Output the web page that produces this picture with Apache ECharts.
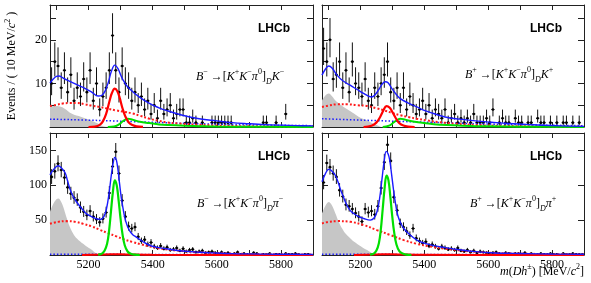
<!DOCTYPE html>
<html><head><meta charset="utf-8">
<script src="https://cdn.jsdelivr.net/npm/echarts@6/dist/echarts.min.js"></script>
<style>html,body{margin:0;padding:0;background:#fff}#c{width:591px;height:283px}</style>
</head><body><div id="c"></div>
<script>
// ---------------- data ----------------
const BIN_START = 5085, BIN_WIDTH = 10;   // bin centres 5085 ... 5895
const X_LABELS = [5200, 5400, 5600, 5800];
const X_TICKS = [5100, 5200, 5300, 5400, 5500, 5600, 5700, 5800];
const Y_TOP_LABELS = [10, 20];
const Y_TOP_TICKS = [5, 10, 15, 20, 25];
const Y_BOT_LABELS = [50, 100, 150];
const Y_BOT_TICKS = [50, 100, 150];

// counts per 10 MeV bin
const dataTL = [10,15,14,9,13,8,12,6,9,7, 11,8,13,6,10,4,7,9,13,21, 13,8,14,10,9,6,8,5,7,4,
  6,3,5,2,6,3,4,5,2,3, 4,4,1,1,2,1,0,1,0,0, 1,1,1,1,1,1,1,0,0,0, 0,0,0,0,0,0,1,1,0,0, 1,0,0,3,0,0,0,0,0,0, 0,0];
const dataTR = [18,15,20,11,12,15,9,13,8,15, 10,9,7,11,6,5,9,7,10,12, 15,8,6,9,5,9,4,7,5,3,
  4,6,3,5,2,4,3,2,4,1, 2,3,1,2,1,2,1,3,1,1, 1,2,1,4,0,1,2,1,1,0, 2,1,1,0,1,1,0,2,1,1, 0,1,0,1,0,1,1,0,1,0, 1,0];
const dataBL = [112,120,131,122,111,97,88,82,79,68, 62,57,63,55,51,47,52,61,89,127, 148,117,78,55,41,38,40,26,20,22,
  15,18,12,10,13,9,11,7,8,10, 6,9,5,7,8,4,5,6,3,4, 5,3,2,4,2,3,1,2,4,1, 2,1,1,3,2,0,1,1,2,0, 1,1,0,2,1,1,2,1,0,1, 1,0];
const dataBR = [104,132,126,117,112,93,84,72,70,66, 60,55,48,66,61,63,58,70,96,133, 158,135,83,64,45,40,34,28,38,24,
  20,17,19,13,15,12,9,12,10,8, 9,7,10,6,5,7,4,6,3,5, 4,3,2,3,4,2,1,3,2,1, 2,2,1,3,1,2,0,1,2,1, 1,2,1,1,0,2,1,1,2,1, 1,1];

// fit components: [mass, events]
const totTL = [[5080,10.1],[5090,11.0],[5100,11.6],[5108,11.7],[5120,11.3],[5132,10.8],[5150,10.2],[5183,9.1],[5210,8.0],[5230,7.1],[5242,7.3],[5252,8.3],[5262,10.3],[5272,12.9],[5282,14.2],[5292,13.4],[5300,12.0],[5307,10.9],[5320,9.4],[5338,8.1],[5360,6.8],[5390,5.4],[5420,4.4],[5442,3.8],[5493,2.7],[5545,1.9],[5600,1.4],[5648,1.0],[5700,0.75],[5750,0.55],[5800,0.42],[5852,0.32],[5900,0.26]];
const sigTL = [[5200,0],[5220,0.1],[5235,0.5],[5245,1.3],[5255,3.0],[5265,5.8],[5273,7.8],[5282,8.8],[5290,8.2],[5298,6.5],[5306,4.3],[5315,2.4],[5325,1.1],[5335,0.5],[5350,0.15],[5370,0.03]];
const misTL = [[5260,0],[5280,0.1],[5295,0.6],[5305,1.2],[5315,1.7],[5323,1.9],[5332,1.8],[5345,1.5],[5360,1.2],[5390,0.9],[5420,0.6],[5450,0.45],[5500,0.3],[5550,0.2],[5600,0.12],[5700,0.05],[5900,0.02]];
const prtTL = [[5080,4.8],[5100,5.1],[5120,5.4],[5140,5.5],[5163,5.5],[5190,5.2],[5210,4.9],[5235,4.6],[5260,4.2],[5287,3.8],[5310,3.5],[5338,3.1],[5360,2.6],[5390,1.9],[5420,1.4],[5442,1.1],[5480,0.8],[5545,0.5],[5600,0.32],[5700,0.16],[5800,0.08],[5900,0.05]];
const cmbTL = [[5080,1.8],[5235,1.5],[5390,1.1],[5545,0.75],[5700,0.5],[5900,0.3]];
const bkgTL = [[5080,4.7],[5095,4.8],[5111,4.7],[5126,4.2],[5147,3.1],[5178,2.3],[5209,1.5],[5235,0.6],[5250,0.1],[5260,0]];

const totTR = [[5080,11.9],[5090,13.2],[5101,14.0],[5112,13.5],[5127,11.9],[5145,10.6],[5168,9.6],[5190,8.6],[5210,7.7],[5225,7.1],[5236,6.9],[5246,7.4],[5257,8.5],[5268,9.8],[5278,10.4],[5286,10.2],[5299,8.8],[5312,7.5],[5325,6.5],[5350,5.5],[5377,4.6],[5400,3.8],[5429,3.1],[5465,2.3],[5510,1.8],[5560,1.4],[5610,1.1],[5664,0.8],[5720,0.6],[5768,0.4],[5830,0.25],[5900,0.15]];
const sigTR = [[5210,0],[5235,0.3],[5250,1.0],[5262,2.3],[5272,3.8],[5282,4.8],[5292,4.4],[5302,3.2],[5312,1.9],[5322,0.9],[5335,0.35],[5350,0.1],[5370,0]];
const misTR = [[5270,0],[5290,0.3],[5305,1.1],[5315,1.6],[5325,1.9],[5335,1.8],[5350,1.5],[5370,1.2],[5400,0.9],[5430,0.65],[5470,0.45],[5520,0.3],[5600,0.15],[5700,0.07],[5900,0.02]];
const prtTR = [[5080,4.6],[5100,4.9],[5127,5.2],[5160,5.2],[5190,5.0],[5223,4.8],[5250,4.3],[5275,3.8],[5300,3.2],[5325,2.7],[5350,2.3],[5377,1.9],[5410,1.5],[5448,1.1],[5500,0.75],[5560,0.45],[5650,0.25],[5750,0.12],[5900,0.05]];
const cmbTR = [[5080,1.9],[5275,1.4],[5450,1.0],[5650,0.6],[5900,0.3]];
const bkgTR = [[5080,6.1],[5090,7.2],[5101,7.7],[5112,7.0],[5122,6.1],[5135,5.3],[5148,4.6],[5165,3.8],[5180,3.1],[5200,2.1],[5221,1.5],[5240,0.8],[5252,0.4],[5265,0]];

const totBL = [[5080,115],[5090,122],[5100,127],[5106,128],[5115,125],[5127,118],[5135,106],[5142,95],[5152,84],[5163,76],[5180,66],[5194,59],[5210,55],[5225,52],[5238,51],[5248,55],[5256,66],[5264,88],[5271,114],[5277,132],[5282,140],[5287,136],[5292,122],[5297,102],[5302,83],[5308,66],[5313,54],[5320,43],[5328,35],[5338,29],[5349,25.7],[5370,19],[5390,14],[5415,11],[5442,9],[5493,5.7],[5545,3.9],[5600,2.8],[5648,2.0],[5700,1.6],[5800,1.1],[5900,0.8]];
const sigBL = [[5230,0.5],[5242,2],[5250,6],[5258,16],[5264,34],[5270,62],[5276,90],[5282,107],[5288,100],[5294,78],[5300,52],[5306,30],[5313,14],[5322,5],[5332,1.8],[5345,0.5],[5360,0]];
const misBL = [[5180,0],[5230,0.6],[5270,1.2],[5320,0.8],[5400,0.3],[5900,0]];
const prtBL = [[5080,44.8],[5105,47.5],[5132,48.6],[5160,47.5],[5183,44.8],[5210,41],[5235,36.2],[5260,31.5],[5287,26.7],[5310,22.5],[5338,18.6],[5365,15.2],[5390,12.4],[5415,10],[5442,8.1],[5493,5.6],[5545,3.9],[5600,2.7],[5648,2.0],[5700,1.5],[5800,0.9],[5900,0.6]];
const cmbBL = [[5080,1.2],[5400,0.8],[5900,0.4]];
const bkgBL = [[5080,62],[5090,73],[5100,80],[5106,81],[5115,76],[5122,68],[5130,56],[5142,40],[5152,31],[5163,24],[5176,18.5],[5189,14],[5200,10.5],[5209,8],[5220,3.5],[5230,1],[5240,0]];

const totBR = [[5080,105],[5090,116],[5101,123],[5110,121],[5122,114],[5130,105],[5137,95],[5148,82],[5158,71.4],[5168,64],[5179,59.6],[5195,55],[5210,52.4],[5231,50],[5243,53],[5252,62],[5260,80],[5268,110],[5275,136],[5281,148.6],[5287,145],[5292,135.7],[5298,115],[5304,92.9],[5310,74],[5317,57],[5326,46],[5336,38],[5355,29],[5377,21.4],[5400,17],[5430,13.4],[5466,10.5],[5510,7.5],[5560,4.8],[5621,2.9],[5680,2.3],[5726,2.0],[5800,1.4],[5900,1.0]];
const sigBR = [[5230,0.5],[5242,2],[5250,6],[5258,17],[5264,36],[5270,66],[5276,96],[5282,114],[5288,107],[5294,83],[5300,55],[5306,32],[5313,15],[5322,5.5],[5332,2],[5345,0.5],[5360,0]];
const misBR = [[5180,0],[5230,0.6],[5270,1.2],[5320,0.8],[5400,0.3],[5900,0]];
const prtBR = [[5080,45.3],[5100,47.5],[5127,48.6],[5169,47.6],[5210,43],[5252,35.7],[5294,28.6],[5336,21.4],[5377,16],[5420,12],[5466,9],[5520,6.2],[5580,4],[5640,2.7],[5726,1.8],[5800,1.2],[5900,0.8]];
const cmbBR = [[5080,1.2],[5400,0.8],[5900,0.4]];
const bkgBR = [[5080,59.6],[5090,70],[5101,76],[5110,72],[5122,59.6],[5133,47],[5143,38],[5155,30],[5169,23.8],[5182,18.5],[5195,14.3],[5208,10.5],[5221,7],[5235,3],[5250,0]];

const LABELS = ['B⁻→[K⁺K⁻π⁰]_D K⁻', 'B⁺→[K⁺K⁻π⁰]_D K⁺', 'B⁻→[K⁺K⁻π⁰]_D π⁻', 'B⁺→[K⁺K⁻π⁰]_D π⁺'];

// ---------------- chart ----------------
const panels = [
  {grid:{left:50, top:5, width:263, height:122}, ymax:28, yl:Y_TOP_LABELS, yt:Y_TOP_TICKS, showY:true, showX:false,
   d:dataTL, tot:totTL, sig:sigTL, mis:misTL, prt:prtTL, cmb:cmbTL, bkg:bkgTL, sigColor:'#ff0000', misColor:'#00e000'},
  {grid:{left:322, top:5, width:262, height:122}, ymax:28, yl:Y_TOP_LABELS, yt:Y_TOP_TICKS, showY:false, showX:false,
   d:dataTR, tot:totTR, sig:sigTR, mis:misTR, prt:prtTR, cmb:cmbTR, bkg:bkgTR, sigColor:'#ff0000', misColor:'#00e000'},
  {grid:{left:50, top:133, width:263, height:122}, ymax:175, yl:Y_BOT_LABELS, yt:Y_BOT_TICKS, showY:true, showX:true,
   d:dataBL, tot:totBL, sig:sigBL, mis:misBL, prt:prtBL, cmb:cmbBL, bkg:bkgBL, sigColor:'#00e000', misColor:'#ff0000'},
  {grid:{left:322, top:133, width:262, height:122}, ymax:175, yl:Y_BOT_LABELS, yt:Y_BOT_TICKS, showY:false, showX:true,
   d:dataBR, tot:totBR, sig:sigBR, mis:misBR, prt:prtBR, cmb:cmbBR, bkg:bkgBR, sigColor:'#00e000', misColor:'#ff0000'}
];

const FRAME = '#222';
const SERIF = 'Liberation Serif';
const grids = [], xAxes = [], yAxes = [], series = [];

function poisson(n){ const s = Math.sqrt(n + 0.25); return [n + 0.5 - s, n + 0.5 + s]; }

function renderErr(params, api){
  const x = api.value(0), n = api.value(1), lo = api.value(2), hi = api.value(3);
  const p = api.coord([x, n]), pl = api.coord([x, lo]), ph = api.coord([x, hi]);
  const l = api.coord([x - BIN_WIDTH/2, n]), r = api.coord([x + BIN_WIDTH/2, n]);
  return {type:'group', children:[
    {type:'line', shape:{x1:p[0], y1:pl[1], x2:p[0], y2:ph[1]}, style:{stroke:'#111', lineWidth:1}},
    {type:'line', shape:{x1:l[0], y1:p[1], x2:r[0], y2:p[1]}, style:{stroke:'#111', lineWidth:1}},
    {type:'circle', shape:{cx:p[0], cy:p[1], r:1.3}, style:{fill:'#000'}}
  ]};
}

const plain = v => String(v);

panels.forEach((P, k) => {
  grids.push(Object.assign({containLabel:false}, P.grid));
  const xb = {gridIndex:k, type:'value', min:5080, max:5900, position:'bottom',
    axisLine:{show:true, onZero:false, lineStyle:{color:FRAME, width:1}},
    axisTick:{show:true, inside:true, length:5, customValues:X_TICKS, lineStyle:{color:FRAME}},
    axisLabel:{show:P.showX, customValues:X_LABELS, formatter:plain, margin:4, fontFamily:SERIF, fontSize:12, color:'#000'},
    splitLine:{show:false}};
  const xt = Object.assign({}, xb, {position:'top', axisLabel:{show:false}});
  xAxes.push(xb, xt);
  const yl = {gridIndex:k, type:'value', min:0, max:P.ymax, position:'left',
    axisLine:{show:true, onZero:false, lineStyle:{color:FRAME, width:1}},
    axisTick:{show:true, inside:true, length:6, customValues:P.yt, lineStyle:{color:FRAME}},
    axisLabel:{show:P.showY, customValues:P.yl, formatter:plain, margin:3, fontFamily:SERIF, fontSize:12, color:'#000'},
    splitLine:{show:false}};
  if (k === 0) {
    yl.name = '{n|Events / ( 10 MeV/}{i|c}{s|2}{n| )}';
    yl.nameLocation = 'middle';
    yl.nameRotate = 90;
    yl.nameGap = 30;
    yl.nameTextStyle = {fontFamily:SERIF, fontSize:12, color:'#000', rich:{
      n:{fontFamily:SERIF, fontSize:12, color:'#000', lineHeight:16},
      i:{fontFamily:SERIF, fontSize:12, fontStyle:'italic', color:'#000', lineHeight:16},
      s:{fontFamily:SERIF, fontSize:8, color:'#000', verticalAlign:'top', lineHeight:8}}};
  }
  const yr = Object.assign({}, yl, {position:'right', axisLabel:{show:false}, name:''});
  yAxes.push(yl, yr);

  const xi = 2*k, yi = 2*k;
  series.push({type:'line', xAxisIndex:xi, yAxisIndex:yi, data:P.bkg, smooth:0.4, showSymbol:false, silent:true,
    lineStyle:{width:0}, areaStyle:{color:'#c6c6c6', opacity:1}, z:1});
  const errs = [];
  P.d.forEach((n, i) => { if (n > 0) { const e = poisson(n); errs.push([BIN_START + i*BIN_WIDTH, n, e[0], e[1]]); } });
  series.push({type:'custom', xAxisIndex:xi, yAxisIndex:yi, data:errs, renderItem:renderErr, clip:true, z:3, silent:true});
  const line = (data, color, width, type, z) => ({type:'line', xAxisIndex:xi, yAxisIndex:yi, data, smooth:0.4,
    showSymbol:false, silent:true, clip:true, lineStyle:{color, width, type}, z});
  series.push(line(P.cmb, '#1a1aff', 1.5, [1.5, 2], 4));
  series.push(line(P.prt, '#ff1a1a', 2, [2, 2], 4));
  series.push(line(P.mis, P.misColor, 2, 'solid', 5));
  series.push(line(P.sig, P.sigColor, 2.2, 'solid', 5));
  series.push(line(P.tot, '#1a1aff', 1.4, 'solid', 6));
});

// text annotations
const rich = {
  i:{fontFamily:SERIF, fontSize:12, fontStyle:'italic', color:'#000', lineHeight:18},
  n:{fontFamily:SERIF, fontSize:12, color:'#000', lineHeight:18},
  s:{fontFamily:SERIF, fontSize:8, color:'#000', verticalAlign:'top', lineHeight:9},
  b:{fontFamily:SERIF, fontSize:8, fontStyle:'italic', color:'#000', verticalAlign:'bottom', lineHeight:9}
};
function decayRich(lbl){
  const sup = {'⁻':'−','⁺':'+','⁰':'0'};
  const parts = lbl.split('_D ');
  const conv = s => { let r=''; for (const ch of s) {
      if (sup[ch] !== undefined) r += '{s|' + sup[ch] + '}';
      else if (ch === '→') r += '{n| →}';
      else if (ch === '[' || ch === ']') r += '{n|' + ch + '}';
      else r += '{i|' + ch + '}'; } return r; };
  return conv(parts[0]) + '{b|D}' + conv(parts[1]);
}
const labelPos = [[196,77],[465,75],[197,204],[470,204]];
const lhcbPos = [[274,29],[546,29],[274,157],[546,157]];
const graphic = [];
LABELS.forEach((l, k) => {
  graphic.push({type:'text', x:labelPos[k][0], y:labelPos[k][1], silent:true,
    style:{text:decayRich(l), rich, textAlign:'left', textVerticalAlign:'middle'}});
  graphic.push({type:'text', x:lhcbPos[k][0], y:lhcbPos[k][1], silent:true,
    style:{text:'LHCb', fill:'#000', font:'bold 12px "Liberation Sans"', textAlign:'center', textVerticalAlign:'middle'}});
});
graphic.push({type:'text', x:584, y:272, silent:true,
  style:{text:'{i|m}{n|(}{i|Dh}{s|±}{n|) [MeV/}{i|c}{s|2}{n|]}', rich, textAlign:'right', textVerticalAlign:'middle'}});

const chart = echarts.init(document.getElementById('c'), null, {renderer:'canvas'});
chart.setOption({animation:false, backgroundColor:'#fff', grid:grids, xAxis:xAxes, yAxis:yAxes, series, graphic});
</script></body></html>
